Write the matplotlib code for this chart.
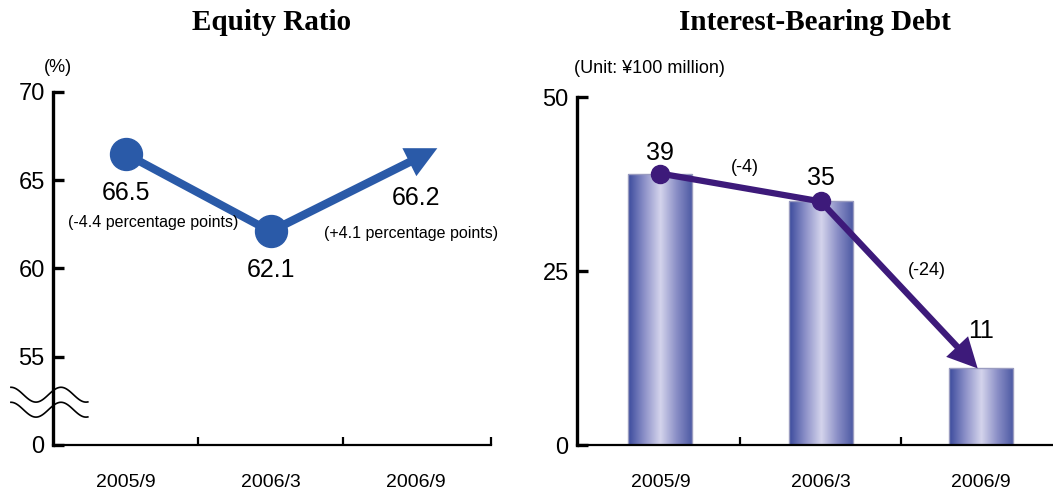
import matplotlib.pyplot as plt
import numpy as np
from matplotlib.colors import LinearSegmentedColormap

periods = ['2005/9', '2006/3', '2006/9']

equity_ratio = [66.5, 62.1, 66.2]
equity_change = ['(-4.4 percentage points)', '(+4.1 percentage points)']

debt = [39, 35, 11]
debt_change = ['(-4)', '(-24)']

SANS = ['Liberation Sans', 'DejaVu Sans']
SERIF = ['Liberation Serif', 'DejaVu Serif']
plt.rcParams['font.family'] = SANS

BLUE = '#2a5aa8'
PURPLE = '#3d1a7a'


def style_axes(ax, minor):
    for s in ('top', 'right'):
        ax.spines[s].set_visible(False)
    ax.spines['left'].set_linewidth(2.4)
    ax.spines['bottom'].set_linewidth(1.6)
    ax.tick_params(axis='y', direction='in', length=8, width=2.4, labelsize=17, pad=6)
    ax.tick_params(axis='x', which='major', length=0, labelsize=14, pad=21)
    ax.tick_params(axis='x', which='minor', direction='in', length=6, width=1.6)
    ax.set_xticks(range(len(periods)))
    ax.set_xticklabels(periods)
    ax.set_xticks(minor, minor=True)


fig = plt.figure(figsize=(10.53, 4.93), dpi=100)
ax1 = fig.add_axes([53 / 1053, 48 / 493, 438 / 1053, 353 / 493])
ax2 = fig.add_axes([577 / 1053, 48 / 493, 476 / 1053, 348 / 493])

# ---- Equity ratio (broken axis: the bottom tick stands for 0) ----
x = np.arange(len(periods))
ax1.set_xlim(-0.5, 2.52)
ax1.set_ylim(50, 70)
ax1.set_yticks([50, 55, 60, 65, 70])
ax1.set_yticklabels(['0', '55', '60', '65', '70'])
style_axes(ax1, [0.5, 1.5, 2.52])

ax1.plot(x[:2], equity_ratio[:2], color=BLUE, lw=5.8, marker='o', ms=23,
         solid_capstyle='butt', zorder=3)
end = np.array([x[2], equity_ratio[2]], float)
start = np.array([x[1], equity_ratio[1]], float)
tip = start + 1.15 * (end - start)
ax1.annotate('', xy=tip, xytext=start,
             arrowprops=dict(arrowstyle='simple,head_length=1.5,head_width=1.5,tail_width=0.4',
                             mutation_scale=15, lw=0, color=BLUE,
                             shrinkA=0, shrinkB=0), zorder=2)

for xi, v in zip(x, equity_ratio):
    ax1.annotate(f'{v:.1f}', (xi, v), xytext=(0, -28), textcoords='offset points',
                 ha='center', va='center', fontsize=18)
ax1.text(0.19, 62.63, equity_change[0], ha='center', va='center', fontsize=11.5)
ax1.text(1.97, 62.0, equity_change[1], ha='center', va='center', fontsize=11.5)

# wavy break marks across the y axis
wx = np.linspace(-0.79, -0.26, 100)
for c in (52.85, 52.0):
    wy = c + 0.42 * np.cos(2 * np.pi * (wx + 0.79) / 0.345)
    ax1.plot(wx, wy, color='black', lw=1.2, clip_on=False, zorder=5)

ax1.text(0.5, 1.198, 'Equity Ratio', transform=ax1.transAxes, ha='center',
         va='center', fontsize=21, fontweight='bold', family=SERIF)
ax1.text(0.011, 1.068, '(%)', transform=ax1.transAxes, ha='center', va='center',
         fontsize=13)

# ---- Interest-bearing debt ----
ax2.set_xlim(-0.52, 2.45)
ax2.set_ylim(0, 50)
ax2.set_yticks([0, 25, 50])
style_axes(ax2, [0.5, 1.5])

cmap = LinearSegmentedColormap.from_list(
    'bar', ['#3a4a9c', '#8c90c8', '#d4d4ec', '#8a8ec6', '#4a58a2'])
grad = np.linspace(0, 1, 256).reshape(1, -1)
width = 0.4
bars = ax2.bar(x, debt, width=width, color='none', edgecolor='#9a9cc0',
               lw=1.0, zorder=2)
for b in bars:
    x0, y0 = b.get_x(), b.get_y()
    im = ax2.imshow(grad, cmap=cmap, aspect='auto', zorder=1,
                    extent=[x0, x0 + b.get_width(), y0, y0 + b.get_height()])
    im.set_clip_path(b)
ax2.set_xlim(-0.52, 2.45)
ax2.set_ylim(0, 50)

ax2.plot(x[:2], debt[:2], color=PURPLE, lw=4.5, marker='o', ms=13, zorder=4)
ax2.annotate('', xy=(x[2] - 0.02, debt[2]), xytext=(x[1], debt[1]),
             arrowprops=dict(arrowstyle='simple,head_length=1.8,head_width=1.8,tail_width=0.38',
                             mutation_scale=12, lw=0, color=PURPLE,
                             shrinkA=0, shrinkB=0), zorder=4)

for xi, v, dy in zip(x, debt, (15, 17, 27)):
    ax2.annotate(f'{v}', (xi, v), xytext=(0, dy), textcoords='offset points',
                 ha='center', va='center', fontsize=18)
ax2.text(0.53, 39.9, debt_change[0], ha='center', va='center', fontsize=13)
ax2.text(1.66, 25.1, debt_change[1], ha='center', va='center', fontsize=13)

ax2.text(0.5, 1.2155, 'Interest-Bearing Debt', transform=ax2.transAxes,
         ha='center', va='center', fontsize=21, fontweight='bold', family=SERIF)
ax2.text(0.153, 1.083, '(Unit: ¥100 million)', transform=ax2.transAxes,
         ha='center', va='center', fontsize=13)

fig.savefig('out.png', dpi=100)
